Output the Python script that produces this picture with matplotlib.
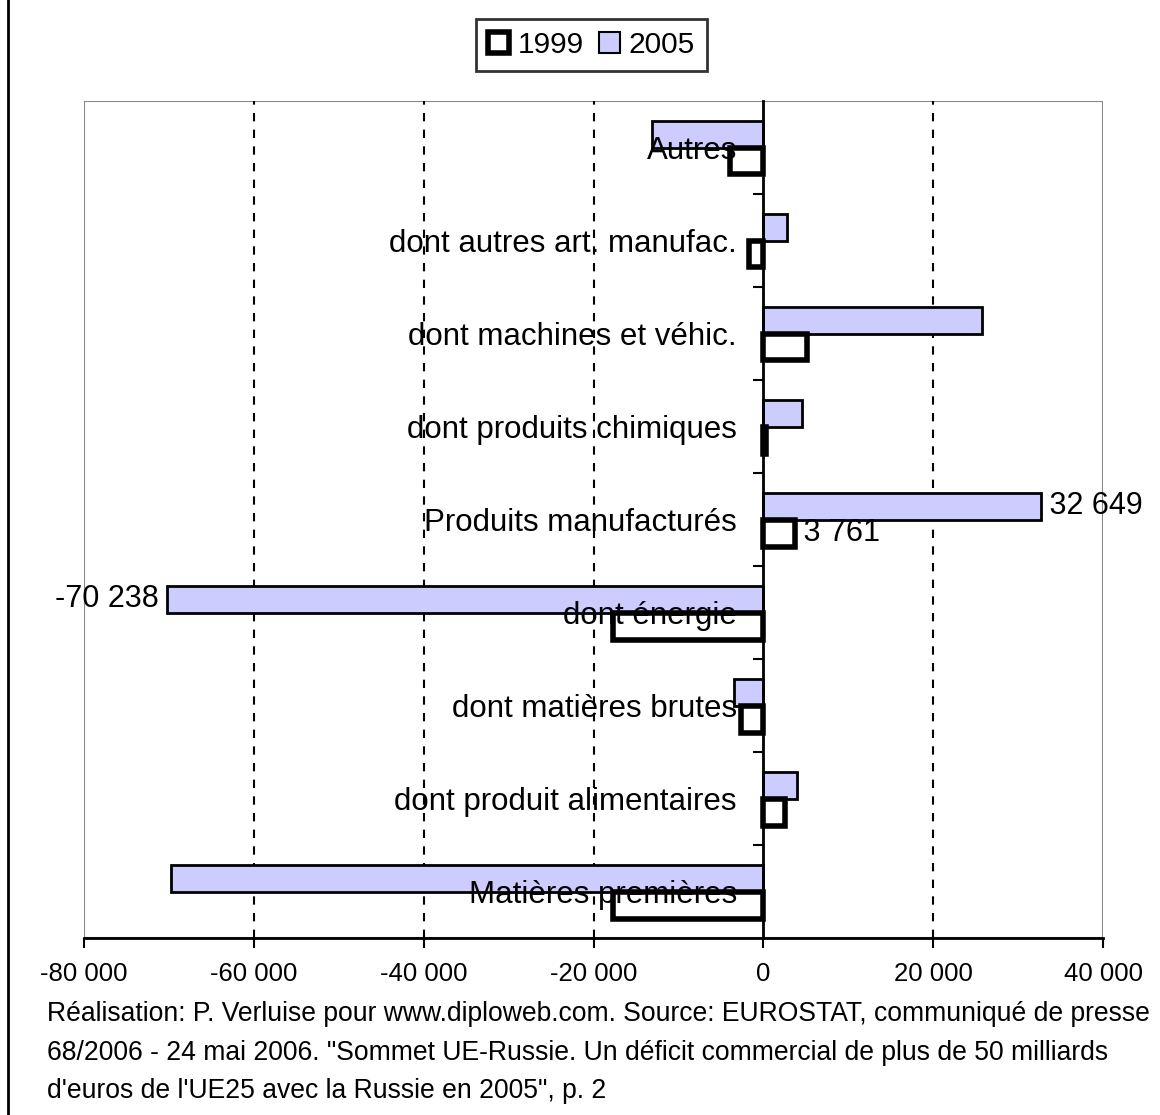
import matplotlib.pyplot as plt
from matplotlib.patches import Rectangle
from matplotlib.lines import Line2D
from matplotlib.ticker import FuncFormatter, FixedLocator

plt.rcParams['font.family'] = ['Liberation Sans', 'DejaVu Sans']

categories = ['Matières premières', 'dont produit alimentaires', 'dont matières brutes',
              'dont énergie', 'Produits manufacturés', 'dont produits chimiques',
              'dont machines et véhic.', 'dont autres art. manufac.', 'Autres']
v1999 = [-17700, 2500, -2600, -17700, 3761, 300, 5100, -1650, -3900]
v2005 = [-69700, 4000, -3400, -70238, 32649, 4600, 25700, 2800, -13100]
xticks = [-80000, -60000, -40000, -20000, 0, 20000, 40000]
footer = ("Réalisation: P. Verluise pour www.diploweb.com. Source: EUROSTAT, communiqué de presse\n"
          "68/2006 - 24 mai 2006. \"Sommet UE-Russie. Un déficit commercial de plus de 50 milliards\n"
          "d'euros de l'UE25 avec la Russie en 2005\", p. 2")

fig = plt.figure(figsize=(11.6, 11.15), dpi=100)
ax = fig.add_axes([0.0724, 0.1587, 0.8785, 0.7507])

y = list(range(len(categories)))
h = 0.29
ax.barh([i + 0.145 for i in y], v2005, height=h, color='#ccccff', edgecolor='black', linewidth=2, zorder=1)
ax.barh([i - 0.145 for i in y], v1999, height=h, color='white', edgecolor='black', linewidth=4, zorder=1)

ax.set_xlim(-80000, 40000)
ax.set_ylim(-0.5, len(categories) - 0.5)

for v in xticks:
    if v not in (xticks[0], 0, xticks[-1]):
        ax.axvline(v, color='black', linestyle=(0, (4, 4)), linewidth=1.5, zorder=0.5)

ax.set_xticks(xticks)
ax.xaxis.set_major_formatter(FuncFormatter(lambda v, p: f"{int(v):,}".replace(',', ' ')))
ax.tick_params(axis='x', direction='out', length=7, width=1.5, labelsize=18.5, pad=10)

ax.spines['left'].set_position(('data', 0))
ax.spines['left'].set_linewidth(2)
ax.spines['bottom'].set_linewidth(2)
ax.spines['top'].set_visible(False)
ax.spines['right'].set_visible(False)
ax.set_yticks(y)
ax.set_yticklabels(categories)
ax.yaxis.set_minor_locator(FixedLocator([i + 0.5 for i in y[:-1]]))
ax.tick_params(axis='y', which='major', length=0, labelsize=22.5, pad=19)
ax.tick_params(axis='y', which='minor', direction='out', length=7, width=1.5)

ax.add_patch(Rectangle((0, 0), 1, 1, transform=ax.transAxes, fill=False,
                       edgecolor='#888888', linewidth=1.5, zorder=0.4))

# data labels
ax.text(v2005[4], 4 + 0.145, ' 32 649', ha='left', va='center', fontsize=22, zorder=3)
ax.text(v1999[4], 4 - 0.145, ' 3 761', ha='left', va='center', fontsize=22, zorder=3)
ax.text(v2005[3], 3 + 0.145, '-70 238 ', ha='right', va='center', fontsize=22, zorder=3)

handles = [Rectangle((0, 0), 1, 1, facecolor='white', edgecolor='black', linewidth=4),
           Rectangle((0, 0), 1, 1, facecolor='#ccccff', edgecolor='black', linewidth=1.5)]
leg = fig.legend(handles, ['1999', '2005'], loc='center', bbox_to_anchor=(0.51, 0.96), ncol=2,
                 fontsize=21.5, frameon=True, fancybox=False, handlelength=0.7, handleheight=0.7,
                 handletextpad=0.3, columnspacing=0.5, borderpad=0.4)
leg.get_frame().set_edgecolor('black')
leg.get_frame().set_linewidth(2)

fig.text(0.0405, 0.102, footer, ha='left', va='top', fontsize=19.1, linespacing=1.62)
fig.add_artist(Line2D([0.007, 0.007], [0, 1], color='black', linewidth=2))

fig.savefig('out.png', dpi=100)
